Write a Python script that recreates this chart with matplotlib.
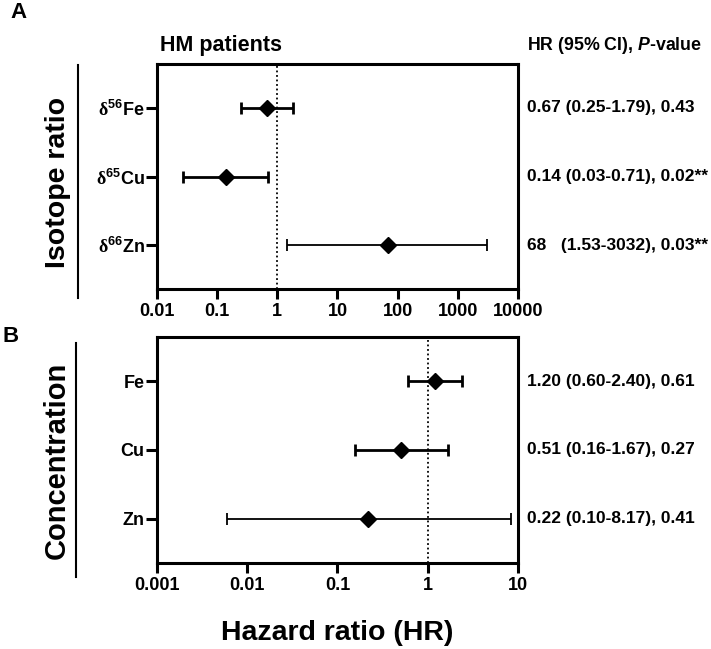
import numpy as np
import matplotlib
matplotlib.use("Agg")
import matplotlib.pyplot as plt
from matplotlib.lines import Line2D

plt.rcParams["font.family"] = ["Liberation Sans", "DejaVu Sans"]
plt.rcParams["font.weight"] = "bold"
plt.rcParams["mathtext.fontset"] = "custom"
plt.rcParams["mathtext.rm"] = "Liberation Serif"
plt.rcParams["mathtext.bf"] = "Liberation Sans:bold"
plt.rcParams["mathtext.it"] = "Liberation Sans:bold:italic"

# Panel A - isotope ratio
iso_labels = [r"$\mathrm{δ}^{\mathbf{56}}$Fe", r"$\mathrm{δ}^{\mathbf{65}}$Cu", r"$\mathrm{δ}^{\mathbf{66}}$Zn"]
iso_hr = [0.67, 0.14, 68]
iso_lo = [0.25, 0.027, 1.47]
iso_hi = [1.79, 0.71, 3030]
iso_text = ["0.67 (0.25-1.79), 0.43", "0.14 (0.03-0.71), 0.02**", "68   (1.53-3032), 0.03**"]
iso_ticks = [0.01, 0.1, 1, 10, 100, 1000, 10000]
iso_ticklabels = ["0.01", "0.1", "1", "10", "100", "1000", "10000"]

# Panel B - concentration
conc_labels = ["Fe", "Cu", "Zn"]
conc_hr = [1.20, 0.51, 0.22]
conc_lo = [0.61, 0.158, 0.006]
conc_hi = [2.40, 1.67, 8.3]
conc_text = ["1.20 (0.60-2.40), 0.61", "0.51 (0.16-1.67), 0.27", "0.22 (0.10-8.17), 0.41"]
conc_ticks = [0.001, 0.01, 0.1, 1, 10]
conc_ticklabels = ["0.001", "0.01", "0.1", "1", "10"]

W, H = 711, 649
fig = plt.figure(figsize=(W / 100, H / 100), dpi=100)

def px(x0, y0, x1, y1):
    return [x0 / W, 1 - y1 / H, (x1 - x0) / W, (y1 - y0) / H]

def forest(ax, labels, hr, lo, hi, texts, ticks, ticklabels, lws):
    y = np.arange(1, len(hr) + 1)
    for i in range(len(hr)):
        ax.errorbar(hr[i], y[i], xerr=[[hr[i] - lo[i]], [hi[i] - hr[i]]],
                    fmt="D", color="black", ms=8, elinewidth=lws[i],
                    capsize=4.5, capthick=lws[i], zorder=3)
    ax.axvline(1, color="black", ls=(0, (1, 1.5)), lw=1.3, zorder=2)
    ax.set_xscale("log")
    ax.set_xlim(ticks[0], ticks[-1])
    ax.set_xticks(ticks)
    ax.set_xticklabels(ticklabels)
    ax.xaxis.set_minor_locator(matplotlib.ticker.NullLocator())
    ax.set_ylim(len(hr) + 0.64, 0.36)
    ax.set_yticks(y)
    ax.set_yticklabels(labels)
    for s in ax.spines.values():
        s.set_linewidth(2.2)
    ax.tick_params(axis="x", length=7, width=2.2, labelsize=13, pad=3)
    ax.tick_params(axis="y", length=8, width=2.2, labelsize=13, pad=1)
    for lab in ax.get_xticklabels() + ax.get_yticklabels():
        lab.set_fontweight("bold")
    tr = matplotlib.transforms.blended_transform_factory(ax.transAxes, ax.transData)
    for yi, t in zip(y, texts):
        ax.text(1.025, yi, t, transform=tr, ha="left", va="center",
                fontsize=12.5, fontweight="bold")

axA = fig.add_axes(px(157, 64, 518, 289))
forest(axA, iso_labels, iso_hr, iso_lo, iso_hi, iso_text, iso_ticks, iso_ticklabels, [2, 2, 1.3])
axB = fig.add_axes(px(157, 337, 518, 563))
forest(axB, conc_labels, conc_hr, conc_lo, conc_hi, conc_text, conc_ticks, conc_ticklabels, [2, 2, 1.3])

# headers
fig.text(160 / W, 1 - 45 / H, "HM patients", fontsize=15.5, fontweight="bold", ha="left", va="center")
fig.text(527 / W, 1 - 45 / H, r"HR (95% CI), $P$-value", fontsize=12.8, fontweight="bold", ha="left", va="center")

# group labels with vertical lines
fig.text(58 / W, 1 - 182 / H, "Isotope ratio", rotation=90, fontsize=20.5, fontweight="bold", ha="center", va="center")
fig.add_artist(Line2D([78 / W, 78 / W], [1 - 65 / H, 1 - 298 / H], color="black", lw=1.5))
fig.text(57 / W, 1 - 460 / H, "Concentration", rotation=90, fontsize=21, fontweight="bold", ha="center", va="center")
fig.add_artist(Line2D([76 / W, 76 / W], [1 - 343 / H, 1 - 577 / H], color="black", lw=1.5))

# panel letters
fig.text(10 / W, 1 - 13 / H, "A", fontsize=16, fontweight="bold", ha="left", va="center")
fig.text(3 / W, 1 - 336 / H, "B", fontsize=16, fontweight="bold", ha="left", va="center")

fig.text(337 / W, 1 - 633 / H, "Hazard ratio (HR)", fontsize=20.5, fontweight="bold", ha="center", va="center")

fig.savefig("out.png", dpi=100)
